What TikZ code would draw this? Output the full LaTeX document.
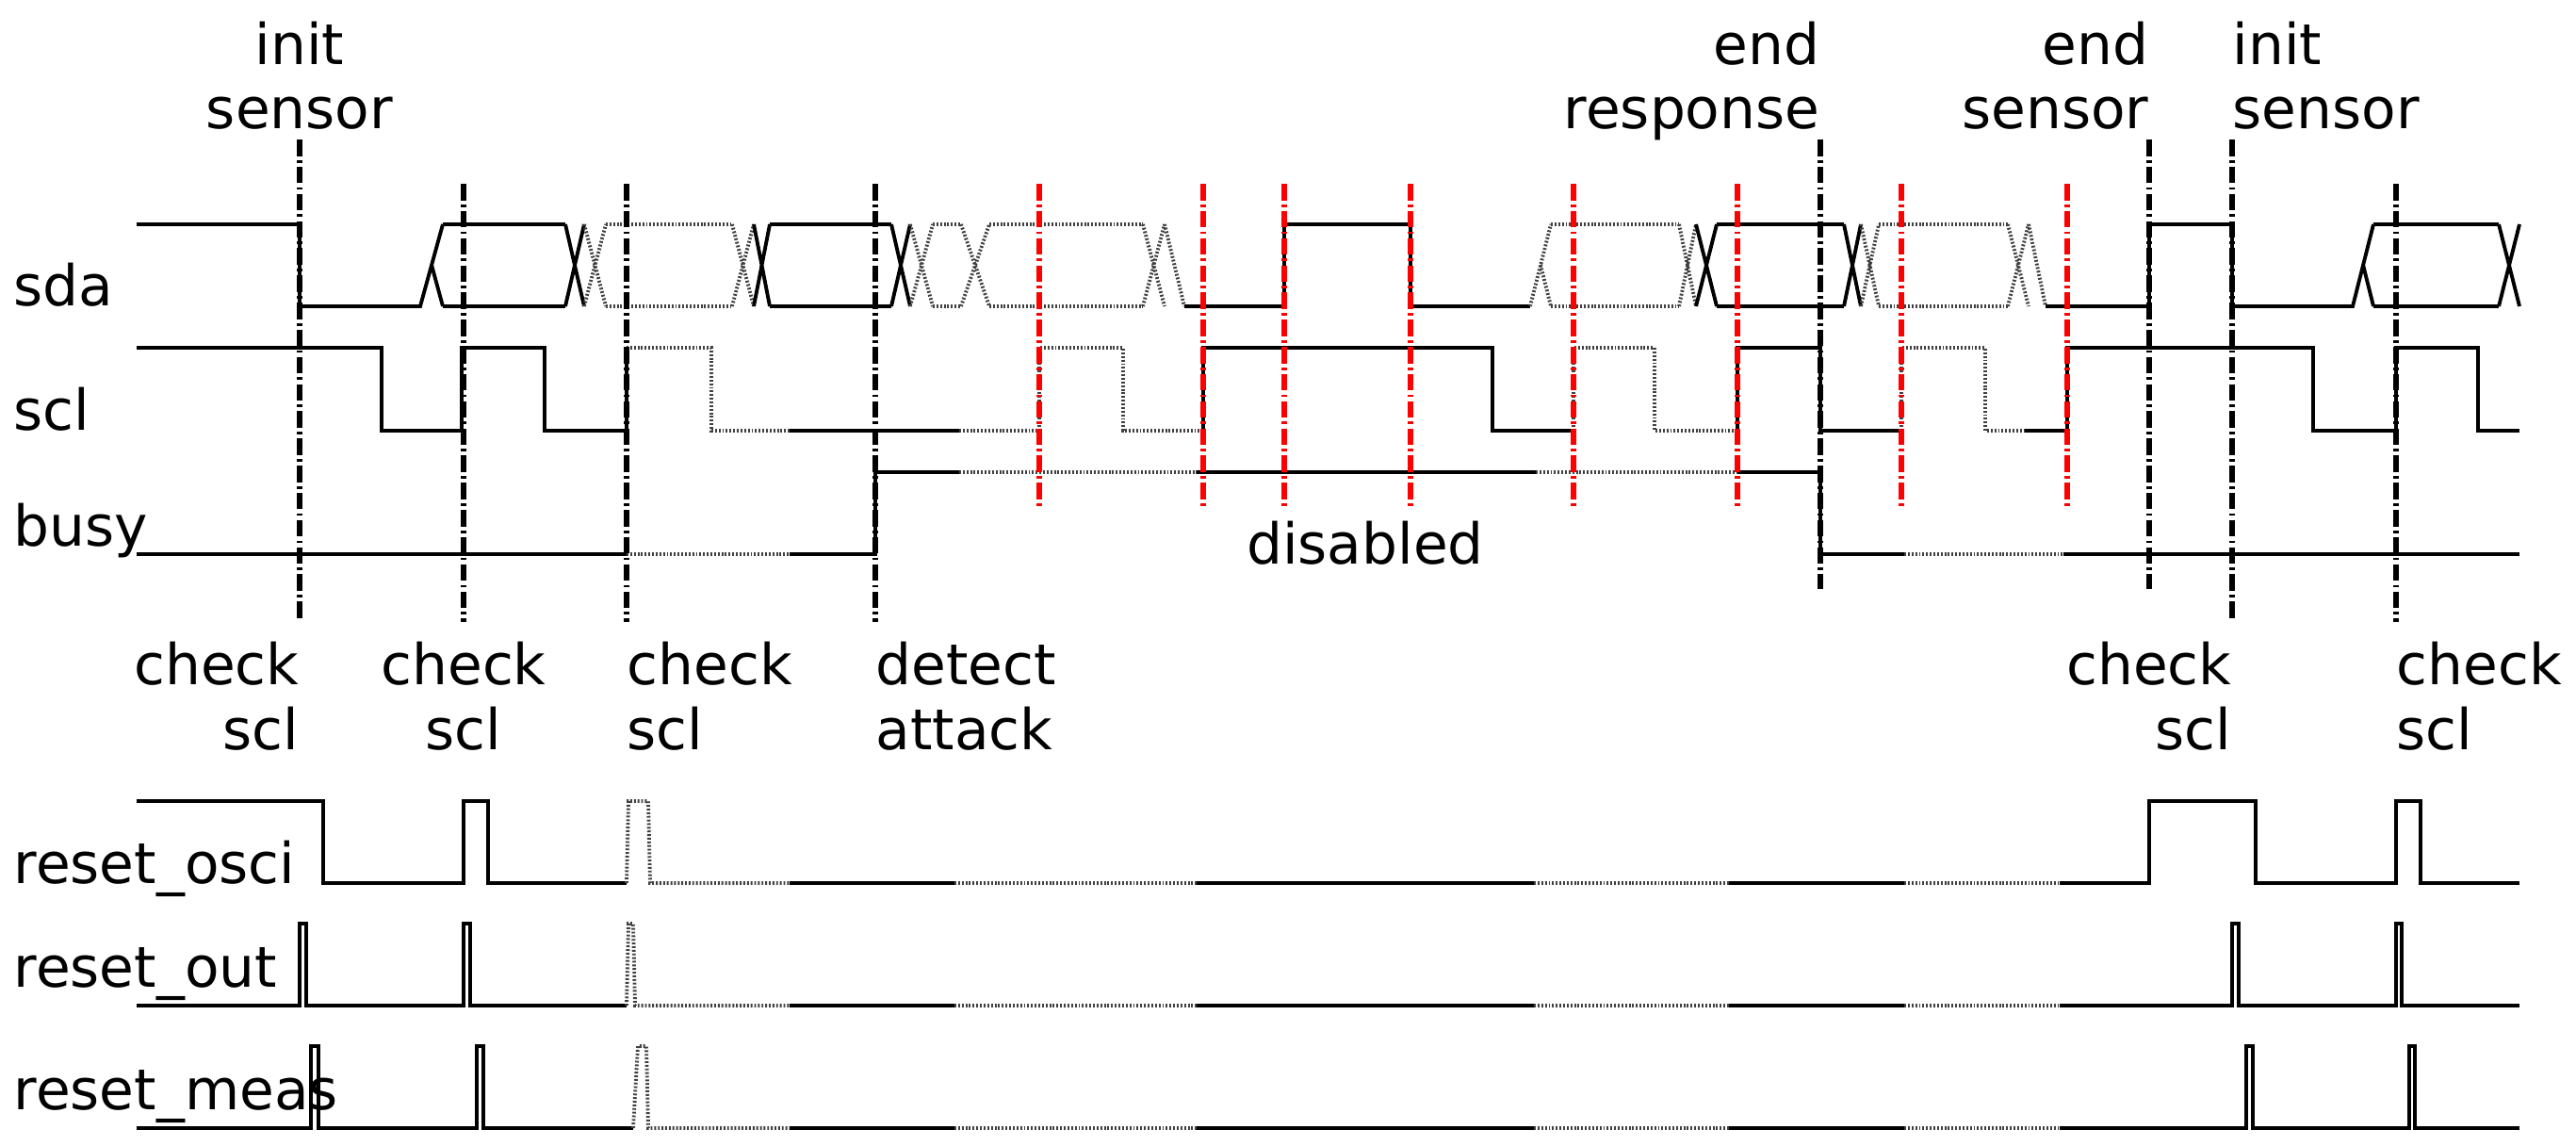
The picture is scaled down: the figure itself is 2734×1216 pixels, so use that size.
\documentclass[tikz,border=0pt]{standalone}
\usepackage{fontspec}
\setmainfont{DejaVu Sans}
\usetikzlibrary{positioning}

\tikzset{
    sig/.style={line width=1.1pt, line join=miter},   % solid trace
    dsig/.style={line width=1.1pt, black!75, dash pattern=on 0.55pt off 0.55pt}, % unknown trace
    evline/.style={line width=1.5pt, dash pattern=on 5pt off 1.2pt on 0.8pt off 1.2pt}, % event line
    alarm/.style={evline, red},
    lbl/.style={font=\fontsize{17}{20}\selectfont, inner sep=0pt, anchor=base west},
    ev/.style={font=\fontsize{17}{19.5}\selectfont, inner sep=0pt, anchor=base}
}
% bus with both levels, and bus crossing
\newcommand{\bus}[3][sig]{\draw[#1] (#2,238) -- (#3,238) (#2,325) -- (#3,325);}
\newcommand{\busx}[3][sig]{\draw[#1] (#2,238) -- (#3,325) (#2,325) -- (#3,238);}
% common middle part of the reset lines
\newcommand{\quiet}[1]{%
    \draw[sig] (838,#1) -- (1013,#1);
    \draw[dsig] (1013,#1) -- (1270,#1);
    \draw[sig] (1270,#1) -- (1628,#1);
    \draw[dsig] (1628,#1) -- (1835,#1);
    \draw[sig] (1835,#1) -- (2021,#1);
    \draw[dsig] (2021,#1) -- (2186,#1);
}

\begin{document}
\begin{tikzpicture}[x=0.01cm, y=-0.01cm]
    \useasboundingbox (0,0) rectangle (2734,1216);

    % signal names
    \node[lbl] (sda) at (14,325) {sda};
    \node[lbl] (scl) at (14,457) {scl};
    \node[lbl] (busy) at (14,580) {busy};
    \node[lbl] (osci) at (14,937) {reset\_osci};
    \node[lbl] (out) at (14,1047) {reset\_out};
    \node[lbl] (meas) at (14,1177) {reset\_meas};

    % sda
    \draw[sig] (145,238) -- (318,238) -- (318,325) -- (446,325) -- (470,238);
    \draw[sig] (458,281) -- (470,325);
    \bus{470}{600} \busx{600}{620}
    \busx[dsig]{620}{643} \bus[dsig]{643}{777} \busx[dsig]{777}{800}
    \busx{800}{817} \bus{817}{946} \busx{946}{966}
    \busx[dsig]{966}{990} \bus[dsig]{990}{1020} \busx[dsig]{1020}{1050}
    \bus[dsig]{1050}{1213} \busx[dsig]{1213}{1236}
    \draw[dsig] (1236,238) -- (1257,325);
    \draw[sig] (1257,325) -- (1363,325) -- (1363,238) -- (1497,238) -- (1497,325) -- (1624,325);
    \draw[dsig] (1624,325) -- (1646,238) (1635,281) -- (1646,325);
    \bus[dsig]{1646}{1782} \busx[dsig]{1782}{1800}
    \busx{1800}{1822} \bus{1822}{1957} \busx{1957}{1975}
    \busx[dsig]{1975}{1994} \bus[dsig]{1994}{2131} \busx[dsig]{2131}{2153}
    \draw[dsig] (2153,238) -- (2171,325);
    \draw[sig] (2171,325) -- (2281,325) -- (2281,238) -- (2369,238) -- (2369,325) -- (2497,325) -- (2519,238);
    \draw[sig] (2508,281) -- (2519,325);
    \bus{2519}{2652} \busx{2652}{2674}

    % scl
    \draw[sig] (145,369) -- (405,369) -- (405,457) -- (490,457) -- (490,369) -- (578,369) -- (578,457) -- (665,457) -- (665,369);
    \draw[dsig] (665,369) -- (755,369) -- (755,457) -- (838,457);
    \draw[sig] (838,457) -- (1018,457);
    \draw[dsig] (1018,457) -- (1103,457) -- (1103,369) -- (1192,369) -- (1192,457) -- (1277,457);
    \draw[sig] (1277,457) -- (1277,369) -- (1584,369) -- (1584,457) -- (1670,457);
    \draw[dsig] (1670,457) -- (1670,369) -- (1756,369) -- (1756,457) -- (1844,457);
    \draw[sig] (1844,457) -- (1844,369) -- (1932,369) -- (1932,457) -- (2018,457);
    \draw[dsig] (2018,457) -- (2018,369) -- (2107,369) -- (2107,457) -- (2149,457);
    \draw[sig] (2149,457) -- (2194,457) -- (2194,369) -- (2455,369) -- (2455,457) -- (2543,457) -- (2543,369) -- (2630,369) -- (2630,457) -- (2674,457);

    % busy
    \draw[sig] (145,588) -- (665,588);
    \draw[dsig] (665,588) -- (838,588);
    \draw[sig] (838,588) -- (929,588) -- (929,501) -- (1018,501);
    \draw[dsig] (1018,501) -- (1270,501);
    \draw[sig] (1270,501) -- (1630,501);
    \draw[dsig] (1630,501) -- (1844,501);
    \draw[sig] (1844,501) -- (1932,501) -- (1932,588) -- (2021,588);
    \draw[dsig] (2021,588) -- (2190,588);
    \draw[sig] (2190,588) -- (2674,588);

    % reset_osci
    \draw[sig] (145,850) -- (343,850) -- (343,937) -- (492,937) -- (492,850) -- (518,850) -- (518,937) -- (665,937);
    \draw[dsig] (665,937) -- (667,850) -- (688,850) -- (690,937) -- (838,937);
    \quiet{937}
    \draw[sig] (2186,937) -- (2281,937) -- (2281,850) -- (2394,850) -- (2394,937) -- (2543,937) -- (2543,850) -- (2569,850) -- (2569,937) -- (2674,937);

    % reset_out
    \draw[sig] (145,1067) -- (318,1067) -- (318,980) -- (325,980) -- (325,1067) -- (492,1067) -- (492,980) -- (499,980) -- (499,1067) -- (665,1067);
    \draw[dsig] (665,1067) -- (667,980) -- (672,980) -- (674,1067) -- (838,1067);
    \quiet{1067}
    \draw[sig] (2186,1067) -- (2369,1067) -- (2369,980) -- (2376,980) -- (2376,1067) -- (2543,1067) -- (2543,980) -- (2549,980) -- (2549,1067) -- (2674,1067);

    % reset_meas
    \draw[sig] (145,1197) -- (330,1197) -- (330,1110) -- (338,1110) -- (338,1197) -- (506,1197) -- (506,1110) -- (513,1110) -- (513,1197) -- (672,1197);
    \draw[dsig] (672,1197) -- (677,1110) -- (686,1110) -- (688,1197) -- (838,1197);
    \quiet{1197}
    \draw[sig] (2186,1197) -- (2384,1197) -- (2384,1110) -- (2391,1110) -- (2391,1197) -- (2557,1197) -- (2557,1110) -- (2563,1110) -- (2563,1197) -- (2674,1197);

    % event lines
    \foreach \x/\a/\b in {318/148/660, 492/195/660, 665/195/660, 929/195/660,
                          1932/148/625, 2281/148/625, 2369/148/660, 2543/195/660} {
        \draw[evline] (\x,\a) -- (\x,\b);
    }
    \foreach \x in {1103, 1277, 1363, 1497, 1670, 1844, 2018, 2194} {
        \draw[alarm] (\x,195) -- (\x,538);
    }

    % events (base = last line)
    \node[ev, align=center] (init1) at (318,137) {init\\sensor};
    \node[ev, align=right, anchor=base east] (endresp) at (1932,137) {end\\response};
    \node[ev, align=right, anchor=base east] (endsens) at (2281,137) {end\\sensor};
    \node[ev, align=left, anchor=base west] (init2) at (2369,137) {init\\sensor};
    \node[ev] (dis) at (1449,598) {disabled};

    \node[ev, align=right, anchor=base east] (chk1) at (318,795) {check\\scl};
    \node[ev, align=center] (chk2) at (492,795) {check\\scl};
    \node[ev, align=left, anchor=base west] (chk3) at (665,795) {check\\scl};
    \node[ev, align=left, anchor=base west] (att) at (929,795) {detect\\attack};
    \node[ev, align=right, anchor=base east] (chk4) at (2369,795) {check\\scl};
    \node[ev, align=left, anchor=base west] (chk5) at (2543,795) {check\\scl};
\end{tikzpicture}
\end{document}
